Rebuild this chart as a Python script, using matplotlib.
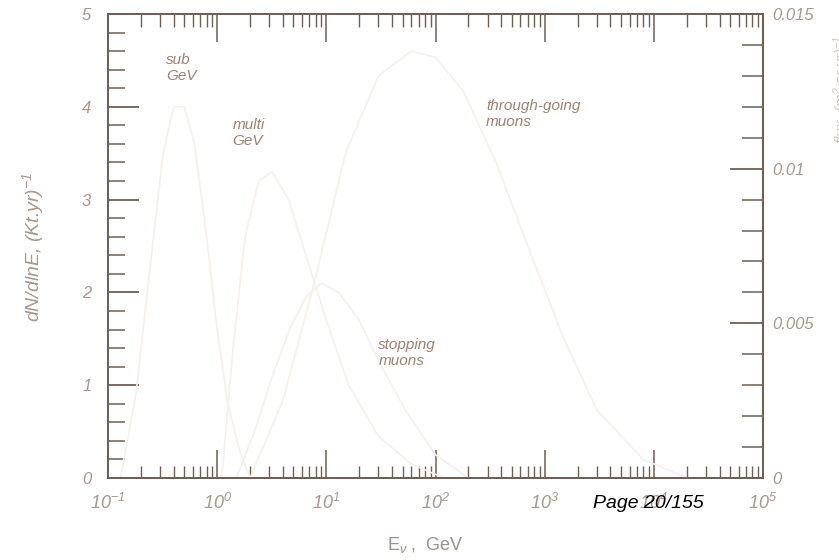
import numpy as np
import matplotlib
matplotlib.use("Agg")
import matplotlib.pyplot as plt
from matplotlib.ticker import FixedLocator, LogLocator, NullFormatter

# Neutrino energy grids (GeV) and event-rate spectra per event class
e_sub = [0.13, 0.18, 0.25, 0.32, 0.40, 0.50, 0.62, 0.80, 1.0, 1.25, 1.6, 2.0]
n_sub = [0.0, 0.9, 2.4, 3.5, 4.0, 4.0, 3.6, 2.6, 1.6, 0.8, 0.3, 0.0]

e_multi = [1.1, 1.4, 1.8, 2.4, 3.2, 4.5, 6.5, 10, 16, 30, 60, 120]
n_multi = [0.0, 1.4, 2.6, 3.2, 3.3, 3.0, 2.4, 1.7, 1.0, 0.45, 0.15, 0.0]

e_stop = [1.5, 2.2, 3.2, 4.6, 6.5, 9.0, 13, 20, 32, 55, 100, 200]
n_stop = [0.0, 0.5, 1.1, 1.6, 1.95, 2.1, 2.0, 1.7, 1.2, 0.7, 0.25, 0.0]

# through-going muons use the right-hand scale
e_thru = [2.0, 4.0, 8.0, 15, 30, 60, 100, 180, 350, 700, 1500, 3000, 8000, 20000]
n_thru = [0.0, 0.0025, 0.0065, 0.0105, 0.0130, 0.0138, 0.0136, 0.0125, 0.0103, 0.0075, 0.0045, 0.0022, 0.0006, 0.0]

x_ticks = [1e-1, 1e0, 1e1, 1e2, 1e3, 1e4, 1e5]
x_tick_labels = [r"$10^{-1}$", r"$10^{0}$", r"$10^{1}$", r"$10^{2}$",
                 r"$10^{3}$", r"$10^{4}$", r"$10^{5}$"]
y_ticks = [0, 1, 2, 3, 4, 5]
y2_ticks = [0, 0.005, 0.01, 0.015]
y2_tick_labels = ["0", "0.005", "0.01", "0.015"]

plt.rcParams["font.family"] = ["Liberation Sans", "DejaVu Sans"]
plt.rcParams["mathtext.fontset"] = "custom"
plt.rcParams["mathtext.rm"] = "Liberation Sans:italic"
plt.rcParams["mathtext.it"] = "Liberation Sans:italic"

frame = "#6f5e52"
tick_txt = "#a8978c"
label_txt = "#a0806e"
curve = "#f6f0ea"

fig = plt.figure(figsize=(8.39, 5.60), dpi=100)
ax = fig.add_axes([108 / 839, 1 - 478 / 560, (763 - 108) / 839, (478 - 14) / 560])
ax2 = ax.twinx()

ax.set_xscale("log")
ax.set_xlim(1e-1, 1e5)
ax.set_ylim(0, 5)
ax2.set_ylim(0, 0.015)

for e, n in [(e_sub, n_sub), (e_multi, n_multi), (e_stop, n_stop)]:
    ax.plot(e, n, color=curve, lw=1.2, solid_capstyle="round")
ax2.plot(e_thru, n_thru, color=curve, lw=1.2)

for a in (ax, ax2):
    for s in a.spines.values():
        s.set_color(frame)
        s.set_linewidth(1.3)

ax.xaxis.set_major_locator(FixedLocator(x_ticks))
ax.set_xticklabels(x_tick_labels)
ax.xaxis.set_minor_locator(LogLocator(base=10, subs=np.arange(2, 10), numticks=20))
ax.xaxis.set_minor_formatter(NullFormatter())
ax.tick_params(axis="x", which="major", direction="in", length=20, width=1.1,
               color=frame, top=True, pad=11, labelsize=13, labelcolor=tick_txt)
ax.tick_params(axis="x", which="minor", direction="in", length=9, width=1.0,
               color=frame, top=True)

ax.set_yticks(y_ticks)
ax.set_yticks(np.arange(0, 5.01, 0.2), minor=True)
ax.tick_params(axis="y", which="major", direction="in", length=22, width=1.3,
               color=frame, pad=12, labelsize=12, labelcolor=tick_txt)
ax.tick_params(axis="y", which="minor", direction="in", length=12, width=1.1,
               color=frame)
for t in ax.get_yticklabels():
    t.set_fontstyle("italic")

ax2.set_yticks(y2_ticks)
ax2.set_yticklabels(y2_tick_labels)
ax2.set_yticks(np.arange(0, 0.01501, 0.001), minor=True)
ax2.tick_params(axis="y", which="major", direction="in", length=24, width=1.3,
                color=frame, pad=7, labelsize=12, labelcolor=tick_txt)
ax2.tick_params(axis="y", which="minor", direction="in", length=15, width=1.1,
                color=frame)
for t in ax2.get_yticklabels():
    t.set_fontstyle("italic")

# curve labels
lab = dict(color=label_txt, fontsize=11, fontstyle="italic", va="center",
           linespacing=1.15)
ax.text(0.34, 4.42, "sub\nGeV", ha="left", **lab)
ax.text(1.38, 3.72, "multi\nGeV", ha="left", **lab)
ax.text(290, 3.92, "through-going\nmuons", ha="left", **lab)
ax.text(30, 1.35, "stopping\nmuons", ha="left", **lab)

fig.text(33 / 839, 1 - 247 / 560, r"dN/dlnE, (Kt.yr)$^{-1}$", rotation=90,
         ha="center", va="center", color=tick_txt, fontsize=14, fontstyle="italic")
fig.text(425 / 839, 1 - 545 / 560, r"E$_{\nu}$ ,  GeV", ha="center", va="center",
         color="#9a918c", fontsize=13)
fig.text(842 / 839, 1 - 90 / 560, r"flux, (m$^{2}$.sr.yr)$^{-1}$", rotation=90,
         ha="center", va="center", color="#cfc4bb", fontsize=11, fontstyle="italic")
fig.text(593 / 839, 1 - 503 / 560, "Page 20/155", ha="left", va="center",
         color="black", fontsize=14, fontstyle="italic")

fig.savefig("out.png", dpi=100, facecolor="white")
